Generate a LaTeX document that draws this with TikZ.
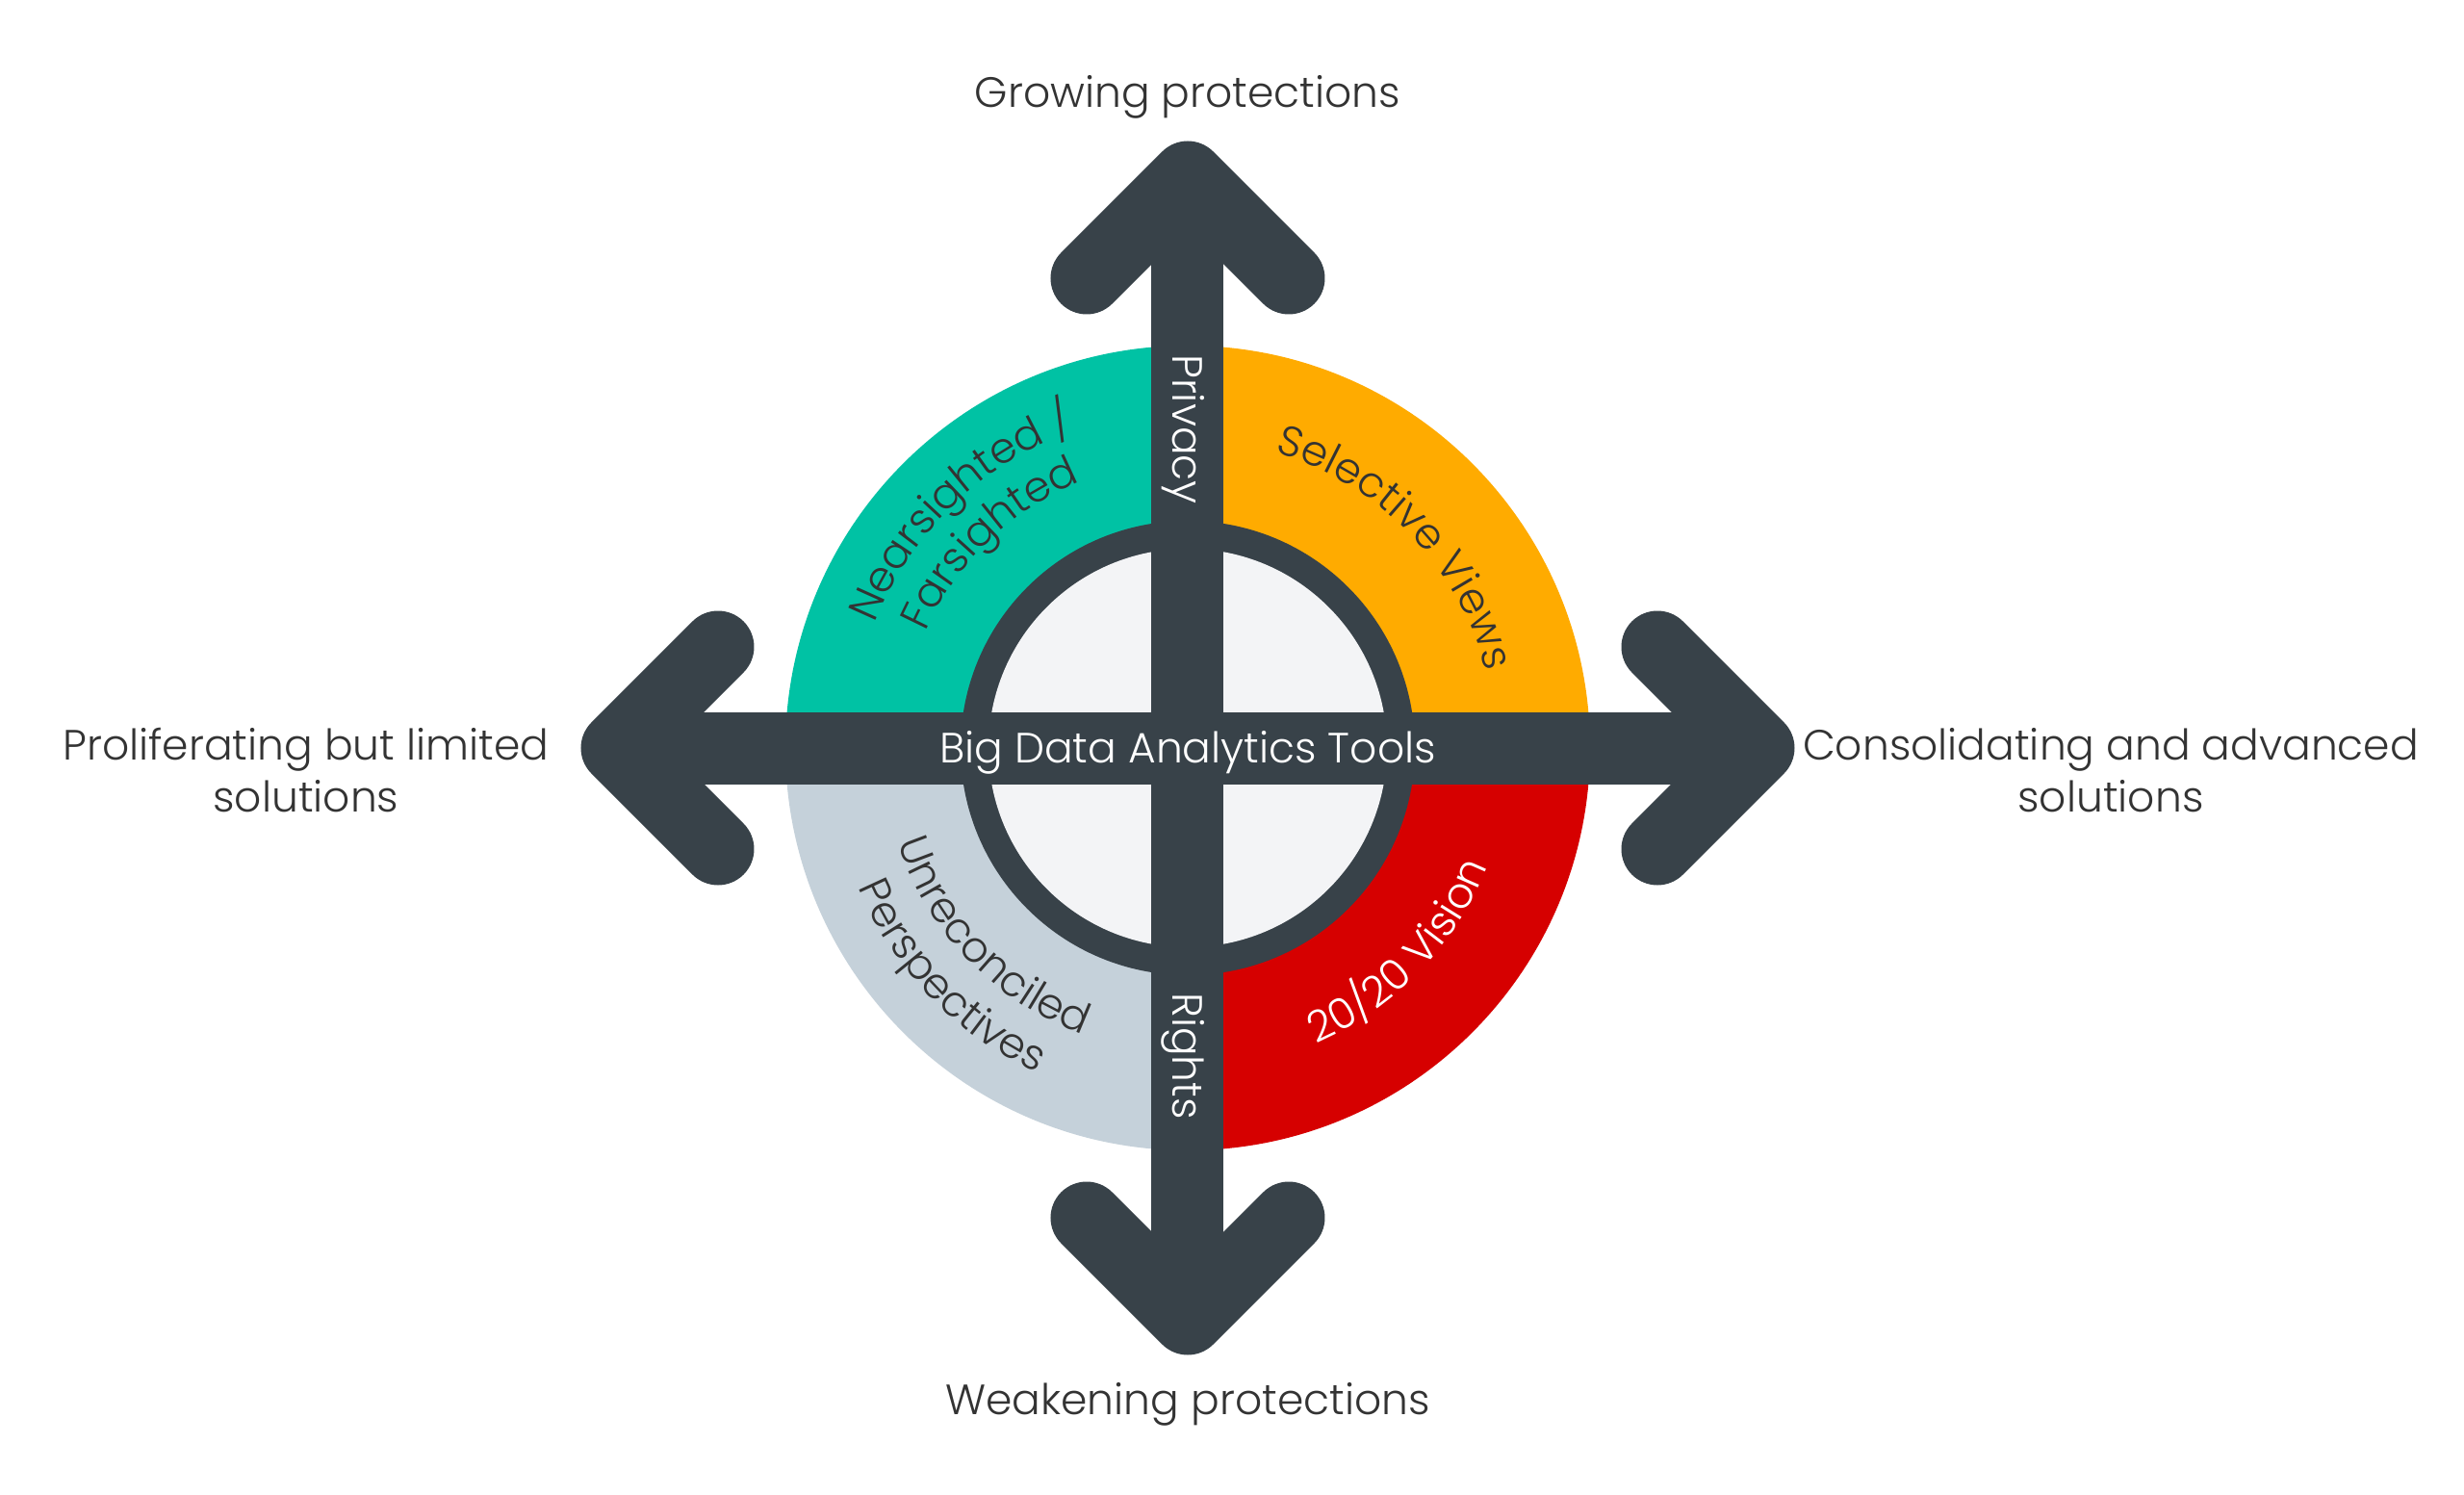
\documentclass[tikz,border=0pt]{standalone}
\usepackage{fontspec}
\IfFontExistsTF{Poppins Light}{\setmainfont{Poppins Light}}{\setmainfont{Poppins}}
\usetikzlibrary{decorations.text}
\definecolor{qteal}{HTML}{00C2A4}
\definecolor{qorange}{HTML}{FFAB00}
\definecolor{qred}{HTML}{D60000}
\definecolor{qgrey}{HTML}{C5D1DA}
\definecolor{darkc}{HTML}{384249}
\definecolor{lightc}{HTML}{F3F4F6}
\definecolor{ink}{HTML}{333333}
\newcommand{\qfont}{\fontsize{22}{28.5}\selectfont}
\tikzset{
  barline/.style={draw=darkc, line width=37.5pt, line cap=butt},
  headline/.style={draw=darkc, line width=37.5pt, line cap=round, line join=round},
  lbl/.style={font=\qfont, text=ink, inner sep=0pt, anchor=base},
  wlbl/.style={font=\qfont, text=white, inner sep=0pt, anchor=base},
}
\begin{document}
\begin{tikzpicture}[x=1pt,y=1pt]
\fill[white] (-617,-388) rectangle (663,388.5);
\useasboundingbox (-617,-388) rectangle (663,388.5);
\coordinate (C) at (0,0);
% quadrants
\fill[qteal] (C) -- (180:209) arc[start angle=180,end angle=90,radius=209] -- cycle;
\fill[qorange] (C) -- (90:209) arc[start angle=90,end angle=0,radius=209] -- cycle;
\fill[qred] (C) -- (0:209) arc[start angle=0,end angle=-90,radius=209] -- cycle;
\fill[qgrey] (C) -- (-90:209) arc[start angle=-90,end angle=-180,radius=209] -- cycle;
\fill[darkc] (C) circle[radius=118];
\fill[lightc] (C) circle[radius=103.5];
% arrow coordinates
\coordinate (N) at (0,296.5);
\coordinate (S) at (0,-296.5);
\coordinate (W) at (-296.5,0);
\coordinate (E) at (296.5,0);
\coordinate (NL) at (-52.5,244);
\coordinate (NR) at (52.5,244);
\coordinate (SL) at (-52.5,-244);
\coordinate (SR) at (52.5,-244);
\coordinate (WU) at (-244,52.5);
\coordinate (WD) at (-244,-52.5);
\coordinate (EU) at (244,52.5);
\coordinate (ED) at (244,-52.5);
% bars
\draw[barline] (S) -- (N);
\draw[barline] (W) -- (E);
% heads
\draw[headline] (NL) -- (N) -- (NR);
\draw[headline] (SL) -- (S) -- (SR);
\draw[headline] (WU) -- (W) -- (WD);
\draw[headline] (EU) -- (E) -- (ED);
% center texts
\node[wlbl] (bigdata) at (0,-7.75) {Big Data Analytics Tools};
\node[wlbl, rotate=-90] (privacy) at (-7.5,165.5) {Privacy};
\node[wlbl, rotate=-90] (rights) at (-7.5,-160) {Rights};
% outer labels
\node[lbl] (grow) at (0,332.5) {Growing protections};
\node[lbl] (weak) at (0,-346) {Weakening protections};
\node[lbl] (prol1) at (-458,-6) {Proliferating but limited};
\node[lbl] (prol2) at (-458,-33) {solutions};
\node[lbl] (cons1) at (479.5,-6) {Consolidating and advanced};
\node[lbl] (cons2) at (479.5,-33) {solutions};
% quadrant texts along arcs
\path[decorate, decoration={text along path, text align=center,
  text={|\qfont\color{ink}|Selective Views}}]
  (104:160) arc[start angle=104, end angle=-16, radius=160];
\path[decorate, decoration={text along path, text align=center,
  text={|\qfont\color{white}|20/20 Vision}}]
  (-104:167.5) arc[start angle=-104, end angle=16, radius=167.5];
\path[decorate, decoration={text along path, text align=center,
  text={|\qfont\color{ink}|Nearsighted /}}]
  (194:175) arc[start angle=194, end angle=74, radius=175];
\path[decorate, decoration={text along path, text align=center,
  text={|\qfont\color{ink}|Farsighted}}]
  (194:149) arc[start angle=194, end angle=74, radius=149];
\path[decorate, decoration={text along path, text align=center,
  text={|\qfont\color{ink}|Unreconciled}}]
  (-196:158.5) arc[start angle=-196, end angle=-76, radius=158.5];
\path[decorate, decoration={text along path, text align=center,
  text={|\qfont\color{ink}|Perspectives}}]
  (-196:186) arc[start angle=-196, end angle=-76, radius=186];
\end{tikzpicture}
\end{document}
